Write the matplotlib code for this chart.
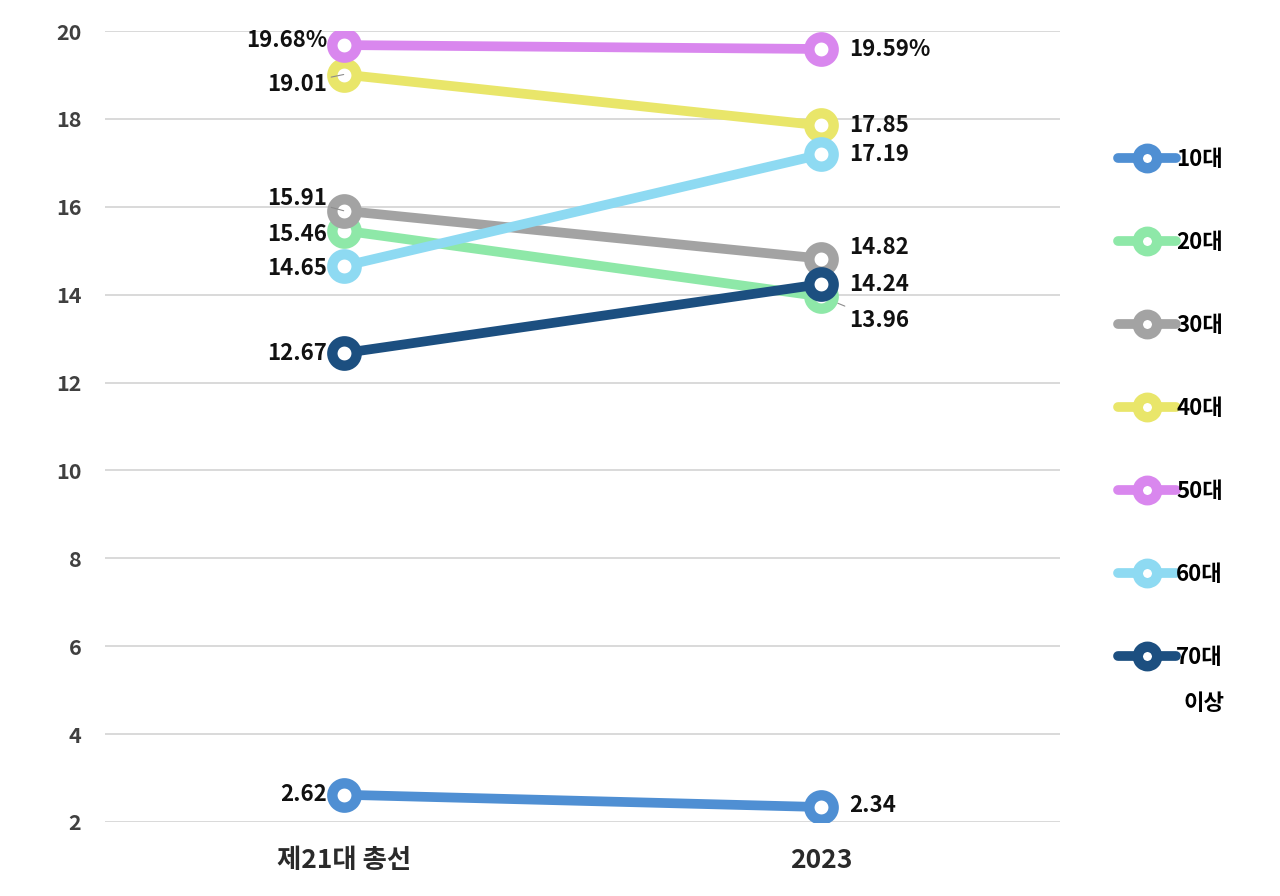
import matplotlib
matplotlib.use("Agg")
import matplotlib.pyplot as plt

plt.rcParams["font.family"] = ["Noto Sans CJK KR", "DejaVu Sans"]

categories = ["제21대 총선", "2023"]
groups = ["10대", "20대", "30대", "40대", "50대", "60대", "70대"]
values_2020 = [2.62, 15.46, 15.91, 19.01, 19.68, 14.65, 12.67]
values_2023 = [2.34, 13.96, 14.82, 17.85, 19.59, 17.19, 14.24]
colors = ["#4f8fd3", "#8ee8a8", "#a3a3a3", "#e9e66a", "#d987ee", "#8edaf2", "#1c4f80"]

# label text offsets in points (left point, right point)
left_offsets = [(-12, 0), (-12, -3), (-12, 9), (-12, -7), (-12, 3), (-12, -1.5), (-12, 0)]
right_offsets = [(20, 1), (20, -17), (20, 8), (20, 0), (20, 0), (20, 0), (20, 0)]
leaders = {("L", 3), ("L", 2), ("R", 1)}

fig = plt.figure(figsize=(12.8, 8.96), dpi=100)
ax = fig.add_axes([0.082, 0.0826, 0.746, 0.8828])

x = list(range(len(categories)))
for i, g in enumerate(groups):
    ax.plot(x, [values_2020[i], values_2023[i]], color=colors[i], lw=7,
            marker="o", ms=17.5, mew=7.5, mfc="white", mec=colors[i],
            label=g, zorder=3 + i * 0.1, solid_capstyle="round")

for i in range(len(groups)):
    for side, xi, val, off in (("L", 0, values_2020[i], left_offsets[i]),
                               ("R", 1, values_2023[i], right_offsets[i])):
        txt = f"{val:.2f}%" if i == 4 else f"{val:.2f}"
        ha = "right" if side == "L" else "left"
        props = None
        if (side, i) in leaders:
            props = dict(arrowstyle="-", color="#8c8c8c", lw=0.8, shrinkA=1, shrinkB=13)
        ax.annotate(txt, xy=(xi, val), xytext=off, textcoords="offset points",
                    ha=ha, va="center", fontsize=16, fontweight="bold",
                    color="#111111", arrowprops=props, zorder=10)

ax.set_ylim(2, 20)
ax.set_xlim(-0.5, 1.5)
ax.set_yticks(range(2, 21, 2))
ax.set_xticks(x)
ax.set_xticklabels(categories, fontsize=19, color="#2a2a2a", fontweight="bold")
ax.tick_params(axis="y", labelsize=15.5, colors="#404040", length=0, pad=17)
ax.tick_params(axis="x", length=0, pad=18)
for lab in ax.get_yticklabels():
    lab.set_fontweight("bold")
ax.grid(axis="y", color="#d9d9d9", lw=1.4, zorder=0)
ax.set_axisbelow(True)
for s in ax.spines.values():
    s.set_visible(False)

leg = fig.legend(loc="upper left", bbox_to_anchor=(0.858, 0.857), frameon=False,
                 fontsize=16, labelspacing=2.7, handlelength=2.6,
                 handletextpad=0.0, markerscale=0.8)
for t in leg.get_texts():
    t.set_fontweight("bold")
fig.text(0.941, 0.215, "이상", fontsize=16, fontweight="bold", ha="center", va="center")

fig.savefig("out.png", dpi=100)
